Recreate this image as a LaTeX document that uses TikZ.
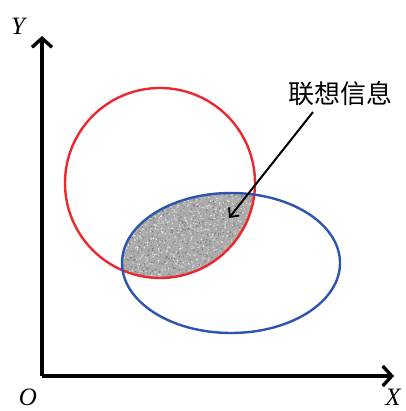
\documentclass[tikz,border=0pt]{standalone}
\usepackage{fontspec}
\setmainfont{Liberation Serif}
\newfontfamily\cjk{Noto Sans CJK SC}
\usetikzlibrary{arrows.meta}
\begin{document}
\begin{tikzpicture}[x=1pt,y=-1pt,
  axis/.style={line width=3.8pt,-{Straight Barb[length=9pt,width=20pt,line width=3.4pt]}},
  redc/.style={draw={rgb,255:red,235;green,40;blue,45},line width=2.4pt},
  bluec/.style={draw={rgb,255:red,45;green,85;blue,175},line width=2.4pt},
  lbl/.style={font=\itshape\fontsize{25}{25}\selectfont,inner sep=0pt}]
\useasboundingbox (0,0) rectangle (405,411);
% intersection fill
\begin{scope}
  \clip (160,183) ellipse [x radius=95, y radius=95];
  \clip (231,263) ellipse [x radius=109, y radius=70];
  \fill[black!33] (60,180) rectangle (270,290);
  \pgfmathsetseed{7}
  \foreach \i in {1,...,2600}{
    \pgfmathsetmacro{\px}{115+150*rnd}
    \pgfmathsetmacro{\py}{188+95*rnd}
    \pgfmathsetmacro{\sh}{3+55*rnd}
    \fill[black!\sh] (\px,\py) circle (0.75);
  }
\end{scope}
\coordinate (o) at (42,376);
\coordinate (ytip) at (42,36);
\coordinate (xtip) at (394,376);
\draw[axis] (o) -- (ytip);
\draw[axis] (o) -- (xtip);
\draw[redc] (160,183) ellipse [x radius=95, y radius=95];
\draw[bluec] (231,263) ellipse [x radius=109, y radius=70];
\node[lbl] (ylab) at (18,26) {Y};
\node[lbl] (olab) at (28,397) {O};
\node[lbl] (xlab) at (393,397) {X};
\node[font=\cjk\fontsize{26}{26}\selectfont,inner sep=1pt] (info) at (340,94) {联想信息};
\coordinate (src) at (313,112);
\coordinate (target) at (229,218);
\draw[line width=2pt,-{Straight Barb[length=7pt,width=13pt,line width=1.8pt]}] (src) -- (target);
\end{tikzpicture}
\end{document}
